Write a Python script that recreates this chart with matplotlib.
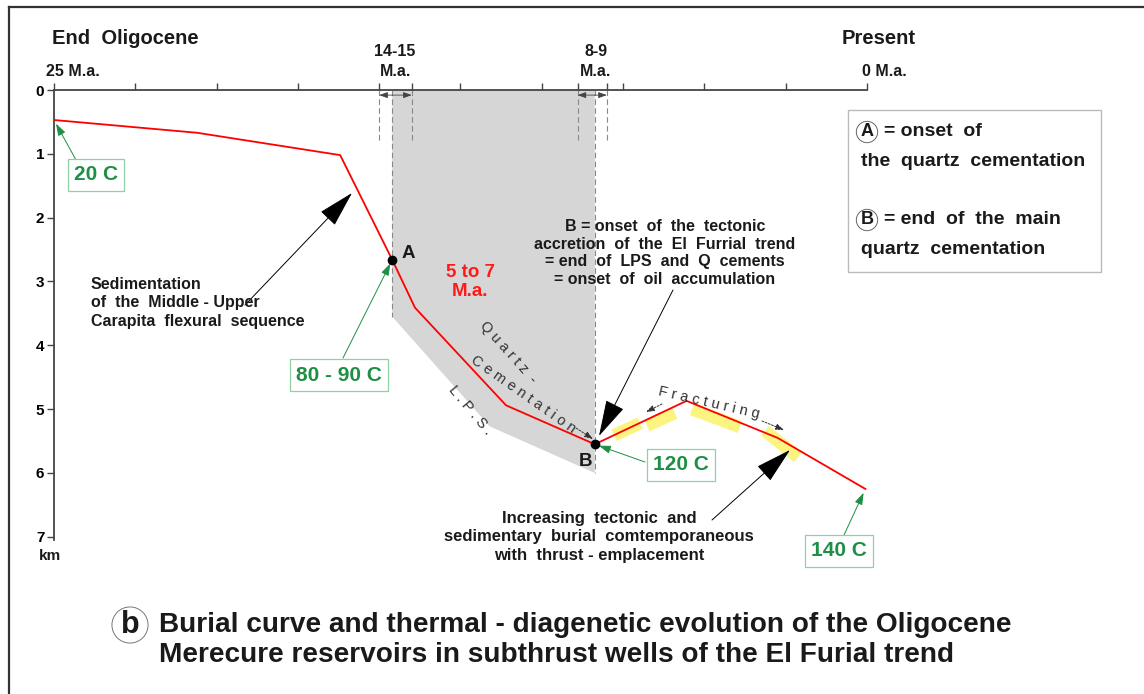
import matplotlib
matplotlib.use('Agg')
import matplotlib.pyplot as plt
from matplotlib.lines import Line2D
from matplotlib.patches import Polygon, Rectangle

plt.rcParams['font.family'] = ['Liberation Sans', 'DejaVu Sans']

W, H = 1144, 694

# burial curve: age (M.a.) vs depth (km)
age = [25.0, 20.6, 16.2, 14.6, 13.9, 11.1, 8.37, 5.55, 2.75, 0.05]
depth = [0.47, 0.67, 1.02, 2.66, 3.41, 4.94, 5.55, 4.87, 5.45, 6.25]

# shaded window of quartz cementation (5 to 7 M.a.)
shade_age = [14.6, 14.6, 11.6, 8.37, 8.37]
shade_depth = [0.0, 3.55, 5.27, 6.0, 0.0]

age_ticks = [25, 22.5, 20, 17.5, 15, 14, 12.5, 10, 8.9, 8, 7.5, 5, 2.5, 0]
depth_ticks = [0, 1, 2, 3, 4, 5, 6, 7]

# temperatures and the curve point they refer to
temp_labels = ['20 C', '80 - 90 C', '120 C', '140 C']
temp_index = [0, 3, 6, 9]

# fracturing highlights (age, depth) start/end
frac_age = [(7.78, 6.98), (6.77, 5.91), (5.38, 3.91), (3.14, 2.12)]
frac_depth = [(5.41, 5.22), (5.26, 5.06), (5.0, 5.28), (5.34, 5.75)]


def P(x, y):
    # pixel position in the picture -> figure fraction
    return (x / W, 1 - y / H)


fig = plt.figure(figsize=(W / 100, H / 100), dpi=100)
ax = fig.add_axes([54 / W, 1 - 540 / H, (867 - 54) / W, (540 - 90) / H])
ax.set_xlim(25, 0)
ax.set_ylim(7.05, 0)
ax.patch.set_alpha(0)

for s in ['right', 'bottom']:
    ax.spines[s].set_visible(False)
for s in ['top', 'left']:
    ax.spines[s].set_color('#444444')
    ax.spines[s].set_linewidth(1.3)
ax.xaxis.tick_top()
ax.set_xticks(age_ticks)
ax.set_xticklabels([])
ax.set_yticks(depth_ticks)
ax.set_yticklabels([str(d) for d in depth_ticks], fontsize=11, fontweight='bold')
ax.tick_params(axis='both', direction='out', length=5, width=1, color='#444444', pad=2)

# frame of the picture
fig.add_artist(Line2D([9 / W, 1], [1 - 7 / H, 1 - 7 / H], transform=fig.transFigure, color='#333333', lw=1.6))
fig.add_artist(Line2D([9 / W, 9 / W], [0, 1 - 7 / H], transform=fig.transFigure, color='#333333', lw=1.6))

# shaded area
ax.add_patch(Polygon(list(zip(shade_age, shade_depth)), closed=True, facecolor='#d6d6d6', edgecolor='none', zorder=1))

# dashed limits
dash = dict(color='#888888', lw=0.8, ls=(0, (5, 3)), zorder=2, clip_on=False)
ax.plot([shade_age[0], shade_age[1]], [0, shade_depth[1]], **dash)
ax.plot([shade_age[3], shade_age[3]], [0, shade_depth[3]], **dash)
for a in [15, 14, 8.9, 8]:
    ax.plot([a, a], [0, 0.8], **dash)

# bracket arrows under the 14-15 and 8-9 ticks
for mid, lo, hi in [(14.6, 15, 14), (8.37, 8.9, 8)]:
    for end in [lo, hi]:
        ax.annotate('', xy=(end, 0.08), xytext=(mid, 0.08),
                    arrowprops=dict(arrowstyle='-|>,head_length=0.5,head_width=0.18', color='#444444',
                                    lw=0.6, mutation_scale=10, shrinkA=0, shrinkB=0))

# fracturing highlights
for fa, fd in zip(frac_age, frac_depth):
    ax.plot(fa, fd, color='#fcf480', lw=9, solid_capstyle='butt', zorder=2)

# burial curve
ax.plot(age, depth, color='#ff0000', lw=1.3, zorder=4, clip_on=False)
ax.plot([age[3], age[6]], [depth[3], depth[6]], 'o', color='black', ms=6, zorder=5)

# top labels
bold = dict(fontweight='bold', color='#1a1a1a')
fig.text(*P(52, 38), 'End  Oligocene', fontsize=14.5, va='center', ha='left', **bold)
fig.text(*P(842, 38), 'Present', fontsize=14.5, va='center', ha='left', **bold)
fig.text(*P(46, 72), '25 M.a.', fontsize=11.5, va='center', ha='left', **bold)
fig.text(*P(862, 72), '0 M.a.', fontsize=11.5, va='center', ha='left', **bold)
fig.text(*P(395, 52), '14-15', fontsize=11.5, va='center', ha='center', **bold)
fig.text(*P(396, 72), 'M.a.', fontsize=11.5, va='center', ha='center', **bold)
fig.text(*P(596, 52), '8-9', fontsize=11.5, va='center', ha='center', **bold)
fig.text(*P(596, 72), 'M.a.', fontsize=11.5, va='center', ha='center', **bold)
fig.text(*P(50, 556), 'km', fontsize=11, va='center', ha='center', **bold)

# A and B
fig.text(*P(408, 253), 'A', fontsize=13.5, va='center', ha='center', **bold)
fig.text(*P(586, 461), 'B', fontsize=13.5, va='center', ha='center', **bold)

# temperature boxes
green = '#1f8f45'
temp_pos = [(96, 175), (339, 375), (681, 465), (839, 551)]
temp_from = [(76, 160), (343, 358), (645, 462), (844, 535)]
for lab, i, (tx, ty), (fx, fy) in zip(temp_labels, temp_index, temp_pos, temp_from):
    fig.text(*P(tx, ty), lab, fontsize=15, color=green, fontweight='bold', ha='center', va='center',
             bbox=dict(boxstyle='square,pad=0.3', facecolor='white', edgecolor='#8fd0a4', lw=0.9))
    ax.annotate('', xy=(age[i], depth[i]), xytext=P(fx, fy), textcoords='figure fraction',
                arrowprops=dict(arrowstyle='-|>,head_length=0.6,head_width=0.2', color=green, lw=0.7,
                                mutation_scale=12, shrinkA=0, shrinkB=3))

# big black arrows
big = dict(arrowstyle='-|>,head_length=1.3,head_width=0.35', color='black', lw=0.7,
           mutation_scale=18, shrinkA=0, shrinkB=0)
ax.annotate('', xy=P(352, 193), xycoords='figure fraction', xytext=P(245, 305), textcoords='figure fraction', arrowprops=big)
ax.annotate('', xy=P(599, 436), xycoords='figure fraction', xytext=P(673, 290), textcoords='figure fraction', arrowprops=big)
ax.annotate('', xy=P(790, 450), xycoords='figure fraction', xytext=P(712, 520), textcoords='figure fraction', arrowprops=big)

fig.text(*P(91, 303), 'Sedimentation\nof  the  Middle - Upper\nCarapita  flexural  sequence',
         ha='left', va='center', fontsize=11.5, fontweight='bold', color='#1a1a1a', linespacing=1.32)
fig.text(*P(665, 253), 'B = onset  of  the  tectonic\naccretion  of  the  El  Furrial  trend\n'
         '= end  of  LPS  and  Q  cements\n= onset  of  oil  accumulation',
         ha='center', va='center', multialignment='center', fontsize=11.5, fontweight='bold',
         color='#1a1a1a', linespacing=1.2)
fig.text(*P(599, 537), 'Increasing  tectonic  and\nsedimentary  burial  comtemporaneous\nwith  thrust - emplacement',
         ha='center', va='center', multialignment='center', fontsize=12, fontweight='bold',
         color='#1a1a1a', linespacing=1.28)

fig.text(*P(470, 282), '5 to 7\nM.a.', fontsize=13.5, fontweight='bold', color='#ff1a1a',
         ha='center', va='center', linespacing=1.2)

# labels along the curve
thin = dict(fontsize=10.5, color='#333333', ha='center', va='center')
fig.text(*P(508, 352), 'Q u a r t z  -', rotation=-48, **thin)
fig.text(*P(523, 394), 'C e m e n t a t i o n', rotation=-35, **thin)
fig.text(*P(470, 410), 'L . P . S .', rotation=-50, **thin)
fig.text(*P(709, 403), 'F r a c t u r i n g', rotation=-13, **thin)

small = dict(arrowstyle='-|>,head_length=0.5,head_width=0.18', color='#333333', lw=0.7,
             ls=(0, (2, 1.5)), mutation_scale=10, shrinkA=0, shrinkB=0)
for (x0, y0), (x1, y1) in [((576, 428), (593, 439)), ((662, 404), (646, 412)), ((762, 421), (784, 430))]:
    ax.annotate('', xy=P(x1, y1), xycoords='figure fraction', xytext=P(x0, y0),
                textcoords='figure fraction', arrowprops=small)

# legend box
fig.add_artist(Rectangle(P(848, 272), (1101 - 848) / W, (272 - 110) / H, transform=fig.transFigure,
                         facecolor='white', edgecolor='#bbbbbb', lw=1))
leg = dict(fontsize=14, fontweight='bold', color='#1a1a1a', va='center', ha='left')
for letter, y1, l1, l2 in [('A', 132, '= onset  of', 'the  quartz  cementation'),
                           ('B', 220, '= end  of  the  main', 'quartz  cementation')]:
    fig.text(*P(867, y1), letter, fontsize=13, fontweight='bold', color='#1a1a1a', ha='center', va='center',
             bbox=dict(boxstyle='circle,pad=0.12', facecolor='white', edgecolor='#666666', lw=0.7))
    fig.text(*P(884, y1), l1, **leg)
    fig.text(*P(861, y1 + 29), l2, **leg)

# caption
fig.text(*P(130, 625), 'b', fontsize=22, fontweight='bold', color='#1a1a1a', ha='center', va='center',
         bbox=dict(boxstyle='circle,pad=0.1', facecolor='white', edgecolor='#777777', lw=0.7))
fig.text(*P(159, 640), 'Burial curve and thermal - diagenetic evolution of the Oligocene\n'
         'Merecure reservoirs in subthrust wells of the El Furial trend',
         fontsize=20.2, fontweight='bold', color='#1a1a1a', ha='left', va='center', linespacing=1.25)

fig.savefig('out.png', dpi=100)
